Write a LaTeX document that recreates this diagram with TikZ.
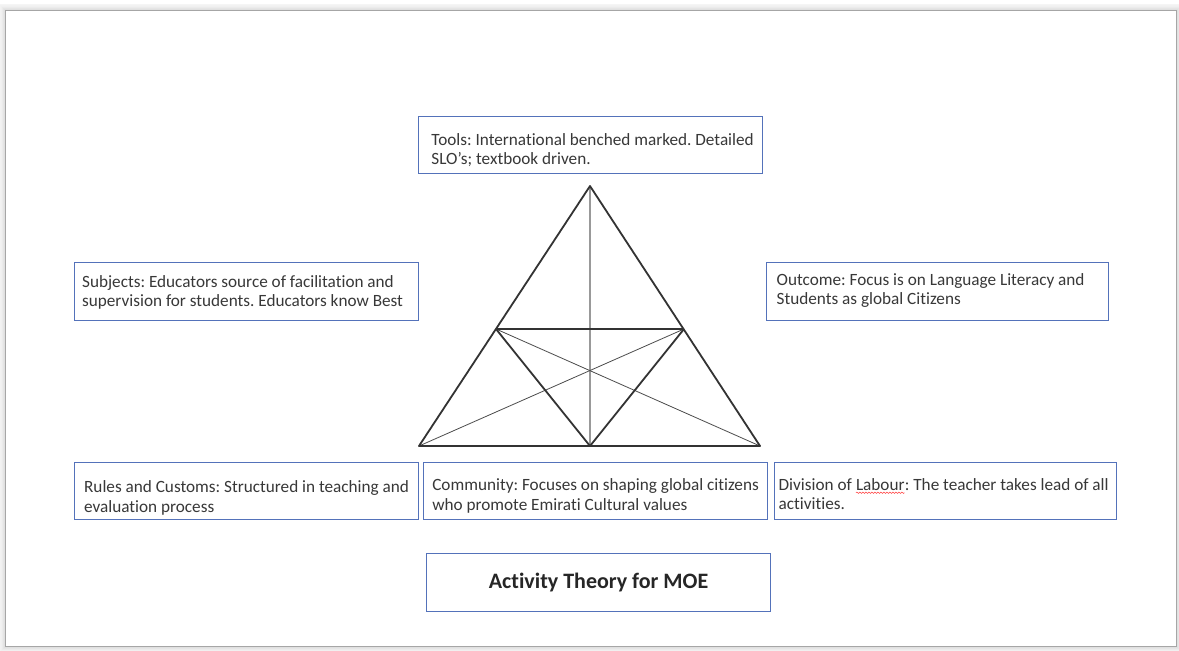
\documentclass[tikz,border=0pt]{standalone}
\usepackage{fontspec}
\setmainfont{Carlito}[RawFeature={-liga}]
\usetikzlibrary{decorations.pathmorphing}
\frenchspacing
% red wavy underline for a single word
\newcommand\wavyword[1]{\tikz[baseline=(w.base)]{\node[draw=none, fill=none, minimum width=0pt,
    minimum height=0pt, inner sep=0pt, outer sep=0pt, text=black!78] (w) {#1};
  \draw[red!75, line width=0.5pt, decorate, decoration={snake, amplitude=0.7pt, segment length=3pt}]
    ([yshift=-2.5pt]w.base west) -- ([yshift=-2.5pt]w.base east);}}
\begin{document}
\begin{tikzpicture}[x=1pt,y=-1pt,
  txt/.style={text=black!78, font=\fontsize{17.2}{19.5}\selectfont, align=left, inner sep=0pt},
  frame/.style={draw=boxblue, line width=1.2pt, fill=white, anchor=north west, inner sep=0pt},
  edge/.style={draw=black!80, line width=1.8pt, line join=round},
  thin/.style={draw=black!70, line width=0.8pt},
  axis/.style={draw=black!40, line width=1.4pt}]
\definecolor{boxblue}{RGB}{84,114,186}
\useasboundingbox (0,0) rectangle (1179,651);
\fill[white] (0,0) rectangle (1179,651);
% soft shadow round the page frame
\foreach \i/\o in {6/0.04,5/0.05,4/0.06,3/0.08,2/0.1,1/0.12}
  \draw[black, opacity=\o, line width=1pt] (5-\i,10-\i) rectangle (1176+\i,646+\i);
\draw[black!35, line width=0.8pt, fill=white] (5,10) rectangle (1176,646);

% triangle corners
\coordinate (apex) at (590,186);
\coordinate (bl) at (419,446);
\coordinate (br) at (760,446);
\coordinate (bm) at (590,446);
\coordinate (ml) at (496,329);
\coordinate (mr) at (684,329);

\draw[axis] (apex) -- (bm);
\draw[thin] (ml) -- (br);
\draw[thin] (mr) -- (bl);
\draw[edge] (apex) -- (bl) -- (br) -- cycle;
\draw[edge] (ml) -- (mr);
\draw[edge] (ml) -- (bm) -- (mr);

% label frames
\node[frame, minimum width=344pt, minimum height=57pt] (tools) at (418,116) {};
\node[frame, minimum width=344pt, minimum height=58pt] (subjects) at (74,262) {};
\node[frame, minimum width=342pt, minimum height=58pt] (outcome) at (766,262) {};
\node[frame, minimum width=344pt, minimum height=57pt] (rules) at (74,462) {};
\node[frame, minimum width=344pt, minimum height=57pt] (community) at (423,462) {};
\node[frame, minimum width=342pt, minimum height=57pt] (labour) at (774,462) {};
\node[frame, minimum width=344pt, minimum height=58pt] (title) at (426,553) {};

% label texts
\node[txt] (tools-t) at ([xshift=2pt,yshift=-5pt]tools.center)
  {Tools: International benched marked. Detailed\\SLO’s; textbook driven.};
\node[txt] (subjects-t) at ([xshift=-4pt,yshift=-1pt]subjects.center)
  {Subjects: Educators source of facilitation and\\supervision for students. Educators know Best};
\node[txt] (outcome-t) at ([xshift=-7pt,yshift=1pt]outcome.center)
  {Outcome: Focus is on Language Literacy and\\Students as global Citizens};
\node[txt] (rules-t) at ([yshift=-7pt]rules.center)
  {Rules and Customs: Structured in teaching and\\evaluation process};
\node[txt] (community-t) at ([yshift=-5pt]community.center)
  {Community: Focuses on shaping global citizens\\who promote Emirati Cultural values};
\node[txt] (labour-t) at ([xshift=-2pt,yshift=-3pt]labour.center)
  {Division of \wavyword{Labour}: The teacher takes lead of all\\activities.};
\node[txt, align=center, font=\fontsize{22}{24}\selectfont\bfseries, text=black!85] (title-t)
  at (title.center) {Activity Theory for MOE};
\end{tikzpicture}
\end{document}
